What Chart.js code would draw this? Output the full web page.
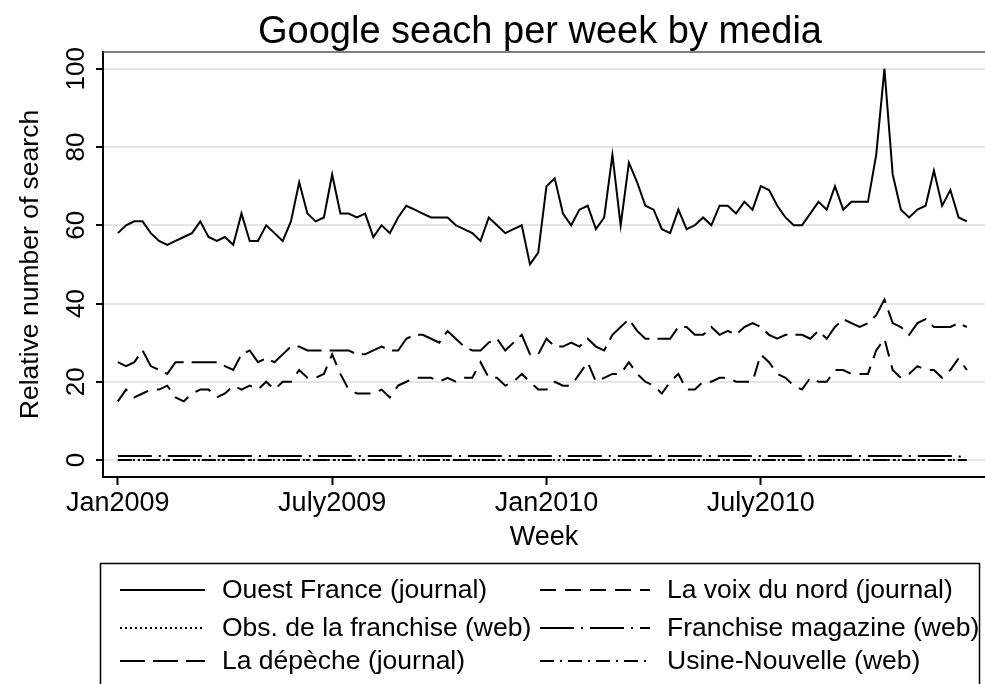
<!DOCTYPE html>
<html>
<head>
<meta charset="utf-8">
<script src="https://cdn.jsdelivr.net/npm/chart.js@4.4.1/dist/chart.umd.min.js"></script>
<style>
  html, body { margin: 0; padding: 0; background: #fff; }
  #wrap { width: 985px; height: 684px; }
</style>
</head>
<body>
<div id="wrap"><canvas id="chart" width="985" height="684"></canvas></div>
<script>
// Weekly Google search index, Jan 2009 - Dec 2010 (104 weeks)
const weeks = Array.from({ length: 104 }, (_, i) => i);

const tickWeeks = [0, 26, 52, 78];
const tickLabels = ['Jan2009', 'July2009', 'Jan2010', 'July2010'];
const yTicks = [0, 20, 40, 60, 80, 100];

const ouestFrance = [
  58, 60, 61, 61, 58, 56, 55, 56, 57, 58,
  61, 57, 56, 57, 55, 63, 56, 56, 60, 58,
  56, 61, 71, 63, 61, 62, 73, 63, 63, 62,
  63, 57, 60, 58, 62, 65, 64, 63, 62, 62,
  62, 60, 59, 58, 56, 62, 60, 58, 59, 60,
  50, 53, 70, 72, 63, 60, 64, 65, 59, 62,
  78, 60, 76, 71, 65, 64, 59, 58, 64, 59,
  60, 62, 60, 65, 65, 63, 66, 64, 70, 69,
  65, 62, 60, 60, 63, 66, 64, 70, 64, 66,
  66, 66, 78, 100, 73, 64, 62, 64, 65, 74,
  65, 69, 62, 61
];

const laVoixDuNord = [
  15, 18, 16, 17, 18, 18, 19, 16, 15, 17,
  18, 18, 16, 17, 19, 18, 19, 18, 20, 18,
  20, 20, 23, 21, 21, 22, 27, 22, 18, 17,
  17, 17, 18, 16, 19, 20, 21, 21, 21, 20,
  21, 20, 21, 21, 25, 21, 21, 19, 20, 22,
  20, 18, 18, 20, 19, 19, 22, 25, 20, 21,
  22, 22, 25, 22, 20, 19, 17, 20, 22, 18,
  18, 20, 20, 21, 21, 20, 20, 20, 27, 25,
  22, 21, 19, 18, 21, 20, 20, 23, 23, 22,
  22, 22, 28, 31, 23, 21, 22, 24, 23, 23,
  21, 23, 26, 23
];

const obsFranchise = [
  0, 0, 0, 0, 0, 0, 0, 0, 0, 0, 0, 0, 0, 0, 0, 0, 0, 0, 0, 0,
  0, 0, 0, 0, 0, 0, 0, 0, 0, 0, 0, 0, 0, 0, 0, 0, 0, 0, 0, 0,
  0, 0, 0, 0, 0, 0, 0, 0, 0, 0, 0, 0, 0, 0, 0, 0, 0, 0, 0, 0,
  0, 0, 0, 0, 0, 0, 0, 0, 0, 0, 0, 0, 0, 0, 0, 0, 0, 0, 0, 0,
  0, 0, 0, 0, 0, 0, 0, 0, 0, 0, 0, 0, 0, 0, 0, 0, 0, 0, 0, 0,
  0, 0, 0, 0
];

const franchiseMagazine = [
  1, 1, 1, 1, 1, 1, 1, 1, 1, 1, 1, 1, 1, 1, 1, 1, 1, 1, 1, 1,
  1, 1, 1, 1, 1, 1, 1, 1, 1, 1, 1, 1, 1, 1, 1, 1, 1, 1, 1, 1,
  1, 1, 1, 1, 1, 1, 1, 1, 1, 1, 1, 1, 1, 1, 1, 1, 1, 1, 1, 1,
  1, 1, 1, 1, 1, 1, 1, 1, 1, 1, 1, 1, 1, 1, 1, 1, 1, 1, 1, 1,
  1, 1, 1, 1, 1, 1, 1, 1, 1, 1, 1, 1, 1, 1, 1, 1, 1, 1, 1, 1,
  1, 1, 1, 0
];

const laDepeche = [
  25, 24, 25, 28, 24, 23, 22, 25, 25, 25,
  25, 25, 25, 24, 23, 27, 28, 25, 26, 25,
  27, 29, 29, 28, 28, 28, 28, 28, 28, 27,
  27, 28, 29, 28, 28, 31, 32, 32, 31, 30,
  33, 31, 29, 28, 28, 30, 31, 28, 30, 32,
  27, 27, 31, 29, 29, 30, 29, 31, 29, 28,
  32, 34, 36, 33, 31, 31, 31, 31, 34, 34,
  32, 32, 34, 32, 33, 32, 34, 35, 34, 32,
  31, 32, 32, 32, 31, 33, 31, 34, 36, 35,
  34, 35, 37, 41, 35, 34, 32, 35, 36, 34,
  34, 34, 35, 34
];

const usineNouvelle = [
  0, 0, 0, 0, 0, 0, 0, 0, 0, 0, 0, 0, 0, 0, 0, 0, 0, 0, 0, 0,
  0, 0, 0, 0, 0, 0, 0, 0, 0, 0, 0, 0, 0, 0, 0, 0, 0, 0, 0, 0,
  0, 0, 0, 0, 0, 0, 0, 0, 0, 0, 0, 0, 0, 0, 0, 0, 0, 0, 0, 0,
  0, 0, 0, 0, 0, 0, 0, 0, 0, 0, 0, 0, 0, 0, 0, 0, 0, 0, 0, 0,
  0, 0, 0, 0, 0, 0, 0, 0, 0, 0, 0, 0, 0, 0, 0, 0, 0, 0, 0, 0,
  0, 0, 0, 0
];

const FONT = "'Liberation Sans', Arial, Helvetica, sans-serif";

function series(label, data, dash) {
  return {
    label: label,
    data: data,
    borderColor: '#000',
    borderWidth: 2,
    borderDash: dash,
    pointRadius: 0,
    tension: 0,
    fill: false
  };
}

// Stata-like decorations: title, rotated y labels, axis titles, boxed legend
const stataDecor = {
  id: 'stataDecor',
  beforeDraw(chart) {
    const ctx = chart.ctx;
    ctx.save();
    ctx.fillStyle = '#fff';
    ctx.fillRect(0, 0, chart.width, chart.height);
    ctx.restore();
  },
  afterDraw(chart) {
    const ctx = chart.ctx;
    const area = chart.chartArea;
    const yScale = chart.scales.y;
    ctx.save();
    ctx.fillStyle = '#000';

    // plot region outline (top side)
    ctx.strokeStyle = '#555';
    ctx.lineWidth = 1.5;
    ctx.beginPath();
    ctx.moveTo(area.left, area.top);
    ctx.lineTo(area.right, area.top);
    ctx.stroke();

    // title
    ctx.font = `38px ${FONT}`;
    ctx.textAlign = 'center';
    ctx.textBaseline = 'alphabetic';
    ctx.fillText('Google seach per week by media', 540, 43);

    // x axis title
    ctx.font = `27px ${FONT}`;
    ctx.fillText('Week', 544, 545);

    // y tick labels, rotated
    ctx.font = `26px ${FONT}`;
    yScale.ticks.forEach(t => {
      const y = yScale.getPixelForValue(t.value);
      ctx.save();
      ctx.translate(84, y);
      ctx.rotate(-Math.PI / 2);
      ctx.textAlign = 'center';
      ctx.textBaseline = 'alphabetic';
      ctx.fillText(String(t.value), 0, 0);
      ctx.restore();
    });

    // y axis title
    ctx.save();
    ctx.font = `26.5px ${FONT}`;
    ctx.translate(38, (area.top + area.bottom) / 2);
    ctx.rotate(-Math.PI / 2);
    ctx.textAlign = 'center';
    ctx.fillText('Relative number of search', 0, 0);
    ctx.restore();

    // legend box
    ctx.strokeStyle = '#000';
    ctx.lineWidth = 1.5;
    ctx.strokeRect(100.5, 563.5, 879, 140);

    const cols = [
      { x0: 120, x1: 205, tx: 222 },
      { x0: 540, x1: 650, tx: 667 }
    ];
    const rows = [590, 628, 661];
    ctx.font = `26.5px ${FONT}`;
    ctx.textAlign = 'left';
    ctx.textBaseline = 'middle';
    chart.data.datasets.forEach((ds, i) => {
      const c = cols[i % 2];
      const y = rows[Math.floor(i / 2)];
      ctx.save();
      ctx.strokeStyle = ds.borderColor;
      ctx.lineWidth = ds.borderWidth;
      ctx.setLineDash(ds.borderDash || []);
      ctx.beginPath();
      ctx.moveTo(c.x0, y);
      ctx.lineTo(c.x1, y);
      ctx.stroke();
      ctx.restore();
      ctx.fillText(ds.label, c.tx, y + 1);
    });
    ctx.restore();
  }
};

new Chart(document.getElementById('chart'), {
  type: 'line',
  data: {
    labels: weeks,
    datasets: [
      series('Ouest France (journal)', ouestFrance, []),
      series('La voix du nord (journal)', laVoixDuNord, [16, 9]),
      series('Obs. de la franchise (web)', obsFranchise, [2, 3]),
      series('Franchise magazine (web)', franchiseMagazine, [34, 7, 2, 7]),
      series('La dépèche (journal)', laDepeche, [25, 8]),
      series('Usine-Nouvelle (web)', usineNouvelle, [14, 6, 2, 6])
    ]
  },
  options: {
    responsive: false,
    animation: false,
    devicePixelRatio: 1,
    layout: { padding: { top: 52, right: 0, bottom: 0, left: 0 } },
    plugins: {
      legend: { display: false },
      title: { display: false },
      tooltip: { enabled: false }
    },
    scales: {
      x: {
        type: 'linear',
        min: -1.8,
        max: 105.2,
        afterBuildTicks: (scale) => {
          scale.ticks = tickWeeks.map(v => ({ value: v }));
        },
        afterFit: (scale) => { scale.height = 207; },
        ticks: {
          autoSkip: false,
          maxRotation: 0,
          minRotation: 0,
          padding: 2,
          color: '#000',
          font: { family: FONT, size: 27 },
          callback: (v) => tickLabels[tickWeeks.indexOf(v)]
        },
        grid: {
          drawOnChartArea: false,
          drawTicks: true,
          tickLength: 8,
          tickColor: '#000',
          tickWidth: 2
        },
        border: { display: true, color: '#000', width: 2 }
      },
      y: {
        min: -4.35,
        max: 104.3,
        afterBuildTicks: (scale) => {
          scale.ticks = yTicks.map(v => ({ value: v }));
        },
        afterFit: (scale) => { scale.width = 103; },
        ticks: { display: false },
        grid: {
          color: '#e6e6e6',
          lineWidth: 2,
          drawTicks: true,
          tickLength: 7,
          tickColor: '#000',
          tickWidth: 2
        },
        border: { display: true, color: '#000', width: 2 }
      }
    }
  },
  plugins: [stataDecor]
});
</script>
</body>
</html>
